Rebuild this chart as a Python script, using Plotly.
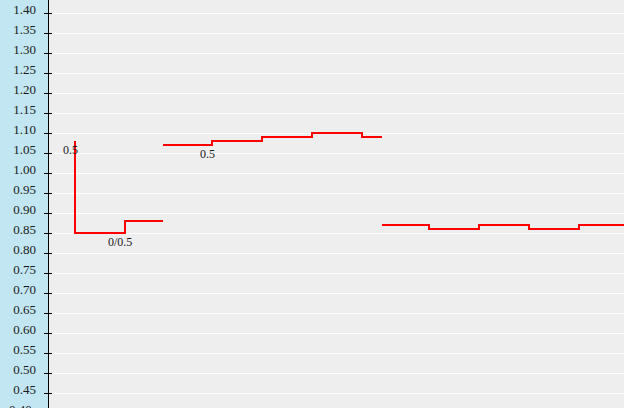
import plotly.graph_objects as go

# Time stamps (x) and odds values (y) for the three step segments
seg1_t = [75, 75, 125, 163]
seg1_v = [1.08, 0.85, 0.88, 0.88]
seg2_t = [163, 212, 262, 312, 362, 382]
seg2_v = [1.07, 1.08, 1.09, 1.10, 1.09, 1.09]
seg3_t = [382, 429, 479, 529, 579, 630]
seg3_v = [0.87, 0.86, 0.87, 0.86, 0.87, 0.87]

label_t = [75, 125, 212]
label_v = [1.08, 0.85, 1.07]
label_text = ["0.5", "0/0.5", "0.5"]

tick_vals = [round(0.40 + 0.05 * i, 2) for i in range(21)]
tick_text = [f"{v:.2f}" for v in tick_vals]

x_all = seg1_t + [None] + seg2_t + [None] + seg3_t
y_all = seg1_v + [None] + seg2_v + [None] + seg3_v

FONT = "Liberation Serif, Times New Roman, serif"
TXT = "#1a1a1a"

fig = go.Figure()
fig.add_trace(go.Scatter(x=x_all, y=y_all, mode="lines",
                         line=dict(color="#FF0000", width=2, shape="hv"),
                         connectgaps=False, showlegend=False, hoverinfo="skip"))
# invisible traces on overlay axes
fig.add_trace(go.Scatter(x=[None], y=[None], yaxis="y2", showlegend=False))
fig.add_trace(go.Scatter(x=[None], y=[None], yaxis="y3", showlegend=False))

for t, v, s in zip(label_t, label_v, label_text):
    fig.add_annotation(x=t, y=v, text=s, showarrow=False, xanchor="center",
                       yanchor="middle", xshift=-5, yshift=-9,
                       font=dict(family=FONT, size=12, color=TXT))

yr = [0.4125, 1.4325]
lab_off = 0.0095  # labels sit a few pixels above their tick marks
yr_lab = [yr[0] - lab_off, yr[1] - lab_off]

# bottom tick label that is cut off by the canvas edge
fig.add_annotation(xref="paper", yref="paper", x=0,
                   y=(tick_vals[0] - yr_lab[0]) / (yr_lab[1] - yr_lab[0]),
                   text=tick_text[0], showarrow=False,
                   xanchor="right", yanchor="middle", xshift=-15,
                   font=dict(family=FONT, size=13, color=TXT))

fig.update_layout(
    width=624, height=408,
    margin=dict(l=49, r=0, t=0, b=0),
    paper_bgcolor="#C2E6F2",
    plot_bgcolor="#EEEEEE",
    xaxis=dict(range=[49, 624], showgrid=False, zeroline=False,
               showticklabels=False, ticks="", showline=False),
    yaxis=dict(range=yr, tickvals=tick_vals, showticklabels=False,
               showgrid=True, gridcolor="#FFFFFF", gridwidth=1,
               zeroline=False, showline=True, linecolor="#000000", linewidth=1,
               ticks="outside", ticklen=4, tickcolor="#000000"),
    yaxis2=dict(range=yr, overlaying="y", tickvals=tick_vals, showticklabels=False,
                showgrid=False, zeroline=False, ticks="inside", ticklen=3,
                tickcolor="#000000", side="left"),
    yaxis3=dict(range=yr_lab, overlaying="y", side="left",
                tickvals=tick_vals, ticktext=tick_text,
                showgrid=False, zeroline=False, showline=False, ticks="",
                ticklabelstandoff=12,
                tickfont=dict(family=FONT, size=13, color=TXT)),
)

fig.write_html("out.html", config={"displayModeBar": False},
               post_script="document.body.style.margin='0';document.body.style.overflow='hidden';")
